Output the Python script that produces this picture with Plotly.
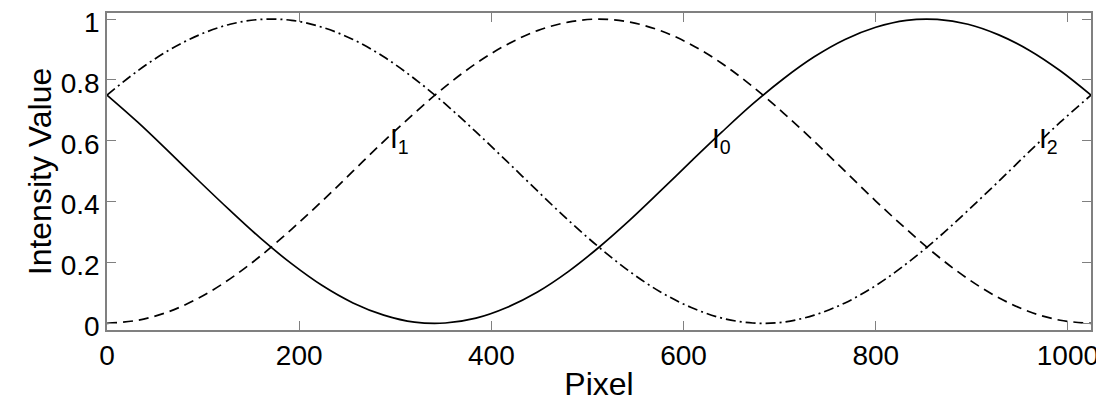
import plotly.graph_objects as go

# Pixel positions (samples every 32 px)
pixel = [0, 32, 64, 96, 128, 160, 192, 224, 256, 288, 320, 352, 384, 416, 448, 480,
         512, 544, 576, 608, 640, 672, 704, 736, 768, 800, 832, 864, 896, 928, 960, 992, 1024]

# Intensity values
I0 = [0.750, 0.661, 0.565, 0.467, 0.371, 0.279, 0.196, 0.124, 0.067, 0.027, 0.004, 0.001,
      0.017, 0.052, 0.103, 0.170, 0.250, 0.339, 0.435, 0.533, 0.629, 0.721, 0.804, 0.876,
      0.933, 0.973, 0.996, 0.999, 0.983, 0.948, 0.897, 0.830, 0.750]
I1 = [0.000, 0.010, 0.038, 0.084, 0.146, 0.222, 0.309, 0.402, 0.500, 0.598, 0.691, 0.778,
      0.854, 0.916, 0.962, 0.990, 1.000, 0.990, 0.962, 0.916, 0.854, 0.778, 0.691, 0.598,
      0.500, 0.402, 0.309, 0.222, 0.146, 0.084, 0.038, 0.010, 0.000]
I2 = [0.750, 0.830, 0.897, 0.948, 0.983, 0.999, 0.996, 0.973, 0.933, 0.876, 0.804, 0.721,
      0.629, 0.533, 0.435, 0.339, 0.250, 0.170, 0.103, 0.052, 0.017, 0.001, 0.004, 0.027,
      0.067, 0.124, 0.196, 0.279, 0.371, 0.467, 0.565, 0.661, 0.750]

# Curve labels
label_text = ["I<sub>1</sub>", "I<sub>0</sub>", "I<sub>2</sub>"]
label_x = [292, 628, 968]
label_y = [0.60, 0.60, 0.60]

x_ticks = [0, 200, 400, 600, 800, 1000]
y_ticks = [0, 0.2, 0.4, 0.6, 0.8, 1]
y_tick_text = ["0", "0.2", "0.4", "0.6", "0.8", "1"]

FONT = "Liberation Sans, Arial, sans-serif"

fig = go.Figure()
fig.add_trace(go.Scatter(x=pixel, y=I0, mode="lines", line=dict(color="black", width=1.7, shape="spline"), name="I0"))
fig.add_trace(go.Scatter(x=pixel, y=I1, mode="lines", line=dict(color="black", width=1.7, dash="10px,6px", shape="spline"), name="I1"))
fig.add_trace(go.Scatter(x=pixel, y=I2, mode="lines", line=dict(color="black", width=1.7, dash="10px,4px,2px,4px", shape="spline"), name="I2"))

for t, x, y in zip(label_text, label_x, label_y):
    fig.add_annotation(x=x, y=y, text=t, showarrow=False, xanchor="left", yanchor="middle",
                       font=dict(family=FONT, size=28, color="black"))

axis_common = dict(showgrid=False, zeroline=False, showline=True, linecolor="#808080", linewidth=1.5,
                   mirror="ticks", ticks="inside", ticklen=9, tickcolor="#808080", tickwidth=1,
                   ticklabeloverflow="allow", automargin=False,
                   tickfont=dict(family=FONT, size=28, color="black"))

fig.update_xaxes(range=[0, 1024], tickvals=x_ticks,
                 title=dict(text="Pixel", font=dict(family=FONT, size=32, color="black"), standoff=2),
                 **axis_common)
fig.update_yaxes(range=[-0.022, 1.02], tickvals=y_ticks, ticktext=y_tick_text, ticklabelshift=3,
                 title=dict(text="Intensity Value", font=dict(family=FONT, size=32, color="black"), standoff=0),
                 **axis_common)

fig.update_layout(width=1104, height=400, margin=dict(l=99, r=21, t=5, b=78),
                  plot_bgcolor="white", paper_bgcolor="white", showlegend=False)

fig.write_html("out.html")
